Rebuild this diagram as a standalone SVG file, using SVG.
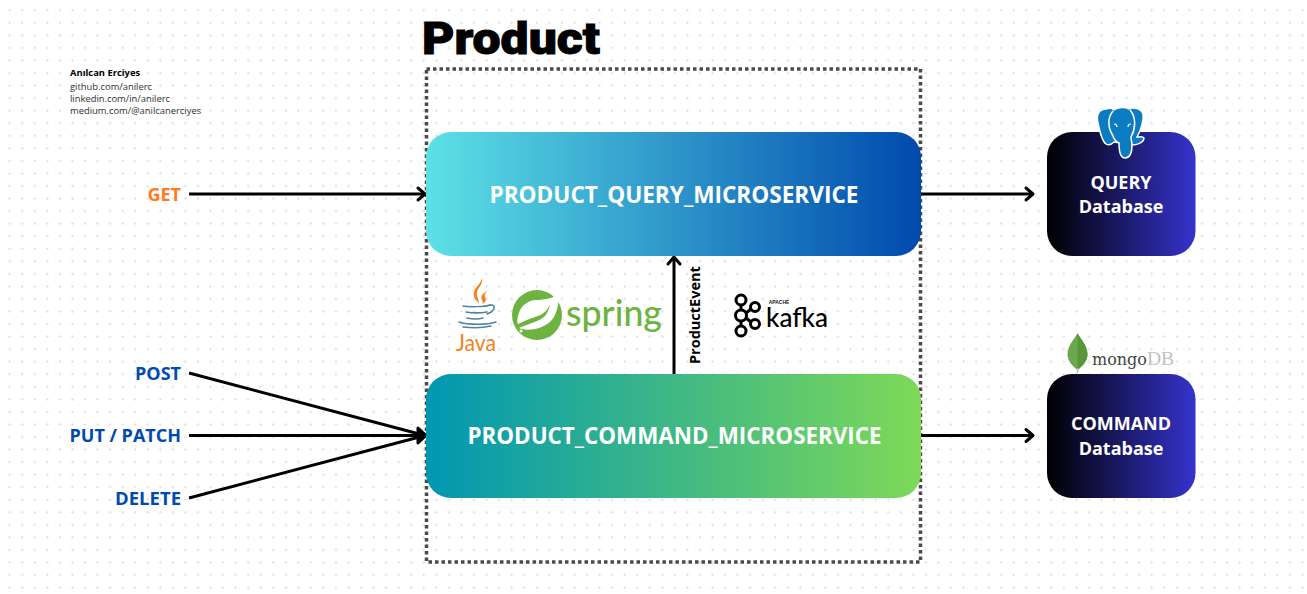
<svg xmlns="http://www.w3.org/2000/svg" width="1307" height="594" viewBox="0 0 1307 594">
<style>
.lbl{font-family:"Open Sans","Liberation Sans",sans-serif;font-weight:700}
.svc{font-size:22.6px;fill:#fff;text-anchor:middle}
.db{font-size:18px;fill:#fff;text-anchor:middle}
.blue{font-size:18px;fill:#004aad;text-anchor:end}
.info{font-family:"Open Sans","Liberation Sans",sans-serif;font-size:9.4px;fill:#333}
.wire{stroke:#000;stroke-width:3;fill:none}
.head{stroke:#000;stroke-width:3;fill:none;stroke-linecap:round;stroke-linejoin:round}
</style>
<defs>
<pattern id="dots" x="3.4" y="4" width="12.55" height="12.55" patternUnits="userSpaceOnUse">
<path d="M4.8 6.3h3M6.3 4.8v3" stroke="#e2e2e7" stroke-width="1"/>
</pattern>
<linearGradient id="gq"><stop offset="0" stop-color="#5ce1e6"/><stop offset="1" stop-color="#004aad"/></linearGradient>
<linearGradient id="gc"><stop offset="0" stop-color="#0097b2"/><stop offset="1" stop-color="#7ed957"/></linearGradient>
<linearGradient id="gd"><stop offset="0" stop-color="#000"/><stop offset="1" stop-color="#3533cd"/></linearGradient>
</defs>
<rect width="1307" height="594" fill="#fff"/>
<rect width="1307" height="594" fill="url(#dots)"/>
<rect id="frame" x="426.500" y="69" width="494" height="493" fill="none" stroke="#4a4a4a" stroke-width="3.500" stroke-dasharray="3.500 3"/>
<text x="422" y="54" font-family="Roboto,'Liberation Sans',sans-serif" font-weight="900" font-size="45" stroke="#000" stroke-width="1" textLength="178" lengthAdjust="spacingAndGlyphs">Product</text>
<g id="author">
<text class="info" x="70" y="76" style="font-weight:700;fill:#000">Anılcan Erciyes</text>
<text class="info" x="70" y="90">github.com/anilerc</text>
<text class="info" x="70" y="102">linkedin.com/in/anilerc</text>
<text class="info" x="70" y="113.500">medium.com/@anilcanerciyes</text>
</g>
<g id="connectors">
<path class="wire" d="M189 194H424"/><path class="head" d="M418 188l7 6-7 6"/>
<path class="wire" d="M921 194H1032"/><path class="head" d="M1026 188l7 6-7 6"/>
<path class="wire" d="M921 435.500H1032"/><path class="head" d="M1026 429.500l7 6-7 6"/>
<path class="wire" d="M674 374V258"/><path class="head" d="M668 264l6-7 6 7"/>
<path class="wire" d="M189 373L425 435.500"/>
<path class="wire" d="M189 435.500H425"/>
<path class="wire" d="M189 498L425 435.500"/>
<path d="M418 428l8 7.500-8 7.500z" stroke="#000" stroke-width="3" stroke-linejoin="round"/>
</g>
<g id="get"><text class="lbl" x="181" y="200.500" font-size="18" fill="#ff7a1a" text-anchor="end">GET</text></g>
<g id="post"><text class="lbl blue" x="181" y="379.500">POST</text></g>
<g id="put"><text class="lbl blue" x="181" y="441.500">PUT / PATCH</text></g>
<g id="delete"><text class="lbl blue" x="181" y="504.500" style="font-size:18.5px">DELETE</text></g>
<g id="query-service">
<rect x="426" y="132" width="495" height="124" rx="25" fill="url(#gq)"/>
<text class="lbl svc" x="674" y="203">PRODUCT_QUERY_MICROSERVICE</text>
</g>
<g id="command-service">
<rect x="426" y="374" width="495" height="124" rx="25" fill="url(#gc)"/>
<text class="lbl svc" x="674.500" y="444" style="font-size:22.4px">PRODUCT_COMMAND_MICROSERVICE</text>
</g>
<g id="query-db">
<rect x="1047" y="132" width="148.500" height="124" rx="25" fill="url(#gd)"/>
<text class="lbl db" x="1121" y="189">QUERY</text>
<text class="lbl db" x="1121" y="213">Database</text>
</g>
<g id="command-db">
<rect x="1047" y="374" width="148.500" height="124" rx="25" fill="url(#gd)"/>
<text class="lbl db" x="1121" y="430">COMMAND</text>
<text class="lbl db" x="1121" y="455">Database</text>
</g>
<text class="lbl" transform="translate(700,364) rotate(-90)" font-size="14.500" fill="#000">ProductEvent</text>
<g id="java-logo">
<path d="M482 278c2 7-7 11-5 18 1 3 2 5 2 7-4-3-6-7-5-11 1-5 7-8 8-14z" fill="#f58219"/>
<path d="M488 291c-5 2-8 5-6 9 1 2 1 3 0 4 3-1 5-4 3-7-1-2 0-4 3-6z" fill="#f58219"/>
<g fill="none" stroke="#5382a1" stroke-width="1.500" stroke-linecap="round">
<path d="M463 306c5 1 22 1 27-1M466 312c6 1 15 1 21 0M467 318c5 1 12 1 16 0"/>
<path d="M490 305c6-1 6 6-3 9"/>
<path d="M459 322c8 3 28 3 37 0M463 327c8 1 20 1 28-1"/>
</g>
<text x="456" y="351" font-family="Lato,'Liberation Sans',sans-serif" font-size="24" fill="#f58219" textLength="40" lengthAdjust="spacingAndGlyphs">Java</text>
</g>
<g id="spring-logo">
<circle cx="537" cy="315" r="25" fill="#6db33f"/>
<path d="M559 293c-5 5-14 7-24 7-9 1-15 7-17 16-1 4-1 7 0 8 5-2 10-5 17-7 8-2 13-7 15-13-1 8-5 14-13 17-7 3-14 5-18 7 9 4 28 1 35-11 4-7 5-17 5-24z" fill="#fff"/>
<circle cx="521" cy="331" r="1.500" fill="#fff"/>
<text x="566" y="326" font-family="Lato,'Open Sans',sans-serif" font-weight="500" font-size="37" fill="#6db33f" textLength="96" lengthAdjust="spacingAndGlyphs">spring</text>
</g>
<g id="kafka-logo">
<g fill="none" stroke="#000" stroke-width="3">
<circle cx="741" cy="300" r="5"/><circle cx="741" cy="315.500" r="5.500"/><circle cx="741" cy="331" r="5"/>
<circle cx="755" cy="307" r="4.500"/><circle cx="755" cy="324" r="4.500"/>
<path d="M741 305v5M741 321v5M746 313l5-4M746 318l5 4"/>
</g>
<text x="779" y="304" text-anchor="middle" font-family="'Liberation Sans',sans-serif" font-size="5" font-weight="700" fill="#222">APACHE</text>
<text x="766" y="327" font-family="Lato,Inter,sans-serif" font-size="27" font-weight="500" fill="#000" textLength="62" lengthAdjust="spacingAndGlyphs">kafka</text>
</g>
<g id="postgres-logo">
<path d="M1106 109C1099 109 1096 115 1098 123C1100 133 1103 142 1106 144C1109 146 1112 144 1114 142C1116 142 1118 143 1119 143C1119 150 1120 158 1125 158C1131 158 1132 152 1132 145C1136 145 1144 143 1144 138C1143 136 1139 137 1137 137C1141 130 1144 120 1143 114C1141 108 1133 107 1129 109C1125 107 1118 107 1114 110C1112 108 1109 108 1106 109Z" fill="#0c7cc2" stroke="#fff" stroke-width="1.500"/>
<path d="M1113 111C1107 118 1108 128 1113 136C1114 139 1117 142 1119 143M1130 110C1137 118 1135 130 1131 137C1131 140 1132 142 1132 145" fill="none" stroke="#fff" stroke-width="1.500"/>
<path d="M1114 124c2 0 3 1 3 3M1131 124c-2 0-3 1-3 3" fill="none" stroke="#fff" stroke-width="1.200"/>
</g>
<g id="mongo-logo">
<path d="M1077.500 333c-2 5-10 12-10 21 0 7 5 12 10 16 5-4 10-9 10-16 0-9-8-16-10-21z" fill="#6aa84f"/>
<path d="M1077.500 333c2 5 10 12 10 21 0 7-5 12-10 16z" fill="#589636"/>
<path d="M1077.500 368v5" stroke="#b8c4a8" stroke-width="1.500"/>
<text x="1092" y="365" font-family="'DejaVu Serif','Liberation Serif',serif" font-size="16" fill="#444">mongo<tspan font-family="'Liberation Serif',serif" font-size="19.500" fill="#c4c0c0">DB</tspan></text>
</g>
</svg>
